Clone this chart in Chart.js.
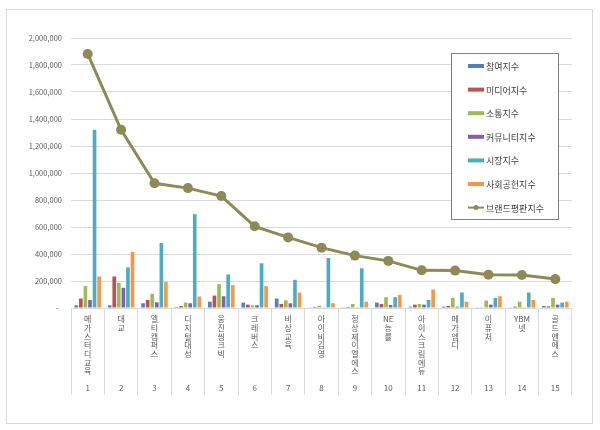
<!DOCTYPE html>
<html>
<head>
<meta charset="utf-8">
<script src="https://cdn.jsdelivr.net/npm/chart.js@4.4.1/dist/chart.umd.min.js"></script>
<style>
  html, body { margin: 0; padding: 0; background: #fff; }
  #frame { position: absolute; left: 6px; top: 9px; width: 585px; height: 413px; border: 1px solid #d9d9d9; }
  canvas { display: block; }
</style>
</head>
<body>
<div id="frame"><canvas id="chart"></canvas></div>
<script>
// brand names and rank numbers
const brands = ['메가스터디교육', '대교', '엘티캠퍼스', '디지털대성', '웅진씽크빅', '크레버스', '비상교육',
  '아이비김영', '정상제이엘에스', 'NE능률', '아이스크림에듀', '메가엠디', '이퓨처', 'YBM넷', '골드앤에스'];
const ranks = [1, 2, 3, 4, 5, 6, 7, 8, 9, 10, 11, 12, 13, 14, 15];

// index values
const participation = [20000, 20000, 35000, 8000, 47000, 40000, 70000, 5000, 2000, 40000, 10000, 10000, 5000, 2000, 15000];
const media = [70000, 234000, 60000, 15000, 92000, 25000, 30000, 8000, 8000, 30000, 25000, 15000, 5000, 10000, 12000];
const communication = [162000, 187000, 105000, 40000, 177000, 20000, 57000, 17000, 30000, 80000, 30000, 75000, 55000, 47000, 75000];
const community = [60000, 150000, 42000, 35000, 87000, 20000, 35000, 5000, 2000, 22000, 25000, 10000, 25000, 2000, 25000];
const market = [1320000, 301000, 481000, 695000, 249000, 331000, 209000, 371000, 294000, 80000, 60000, 115000, 75000, 115000, 40000];
const social = [234000, 416000, 192000, 85000, 169000, 162000, 115000, 35000, 47000, 97000, 137000, 47000, 87000, 60000, 47000];
const reputation = [1882000, 1320000, 924000, 888000, 829000, 605000, 523000, 447000, 388000, 349000, 279000, 277000, 247000, 245000, 214000];

const yTicks = [0, 200000, 400000, 600000, 800000, 1000000, 1200000, 1400000, 1600000, 1800000, 2000000];

const fontFamily = '"Malgun Gothic", "Noto Sans CJK KR", sans-serif';

function bar(label, data, color) {
  return {
    type: 'bar', label: label, data: data, backgroundColor: color, order: 1,
    barPercentage: 0.8, categoryPercentage: 0.82
  };
}

// split a name into stacked characters, keep latin runs together
function stackLabel(name, rank) {
  const parts = name.match(/[A-Za-z]+|./g);
  while (parts.length < 8) parts.push('');
  parts.push(String(rank));
  return parts;
}

const legendBox = {
  id: 'legendBox',
  afterDatasetsDraw(chart) {
    const ctx = chart.ctx;
    const x = 444, y = 43, w = 107, h = 166;
    ctx.save();
    ctx.fillStyle = '#fff';
    ctx.fillRect(x, y, w, h);
    ctx.strokeStyle = '#808080';
    ctx.lineWidth = 1;
    ctx.strokeRect(x + 0.5, y + 0.5, w, h);
    ctx.font = '9px ' + fontFamily;
    ctx.textBaseline = 'middle';
    chart.data.datasets.forEach((ds, i) => {
      const cy = 56 + i * 23.6;
      if (ds.type === 'line') {
        ctx.strokeStyle = ds.borderColor;
        ctx.lineWidth = 2;
        ctx.beginPath();
        ctx.moveTo(461, cy);
        ctx.lineTo(477, cy);
        ctx.stroke();
        ctx.fillStyle = ds.borderColor;
        ctx.beginPath();
        ctx.arc(469, cy, 2.5, 0, Math.PI * 2);
        ctx.fill();
      } else {
        ctx.fillStyle = ds.backgroundColor;
        ctx.fillRect(461, cy - 2, 16, 4);
      }
      ctx.fillStyle = '#404040';
      ctx.fillText(ds.label, 479, cy + 0.5);
    });
    ctx.restore();
  }
};

new Chart(document.getElementById('chart'), {
  data: {
    labels: brands,
    datasets: [
      bar('참여지수', participation, '#4f81bd'),
      bar('미디어지수', media, '#c0504d'),
      bar('소통지수', communication, '#9bbb59'),
      bar('커뮤니티지수', community, '#8064a2'),
      bar('시장지수', market, '#4bacc6'),
      bar('사회공헌지수', social, '#f79646'),
      {
        type: 'line', label: '브랜드평판지수', data: reputation, order: 0,
        borderColor: '#8f8a55', backgroundColor: '#8f8a55', borderWidth: 3,
        pointRadius: 5, pointBackgroundColor: '#8f8a55', pointBorderWidth: 0, tension: 0
      }
    ]
  },
  options: {
    responsive: true,
    maintainAspectRatio: false,
    animation: false,
    layout: { padding: { left: 8, top: 28, right: 20, bottom: 15 } },
    plugins: { legend: { display: false }, tooltip: { enabled: false } },
    scales: {
      x: {
        offset: true,
        grid: { drawOnChartArea: false, drawTicks: true, tickLength: 87, color: '#d9d9d9', offset: true },
        border: { color: '#d9d9d9' },
        ticks: {
          autoSkip: false, maxRotation: 0, minRotation: 0, padding: -80,
          color: '#595959', font: { family: fontFamily, size: 8, lineHeight: 1.08 },
          callback: (v, i) => stackLabel(brands[i], ranks[i])
        },
        afterFit: (s) => { s.height = 100; }
      },
      y: {
        min: 0, max: 2000000,
        afterBuildTicks: (s) => { s.ticks = yTicks.map(v => ({ value: v })); },
        grid: { color: '#d9d9d9', drawTicks: false },
        border: { display: false },
        ticks: {
          padding: 9, color: '#595959', font: { family: fontFamily, size: 7.5 },
          callback: (v) => v === 0 ? '-  ' : v.toLocaleString('en-US')
        },
        afterFit: (s) => { s.width = 56; }
      }
    }
  },
  plugins: [legendBox]
});
</script>
</body>
</html>
